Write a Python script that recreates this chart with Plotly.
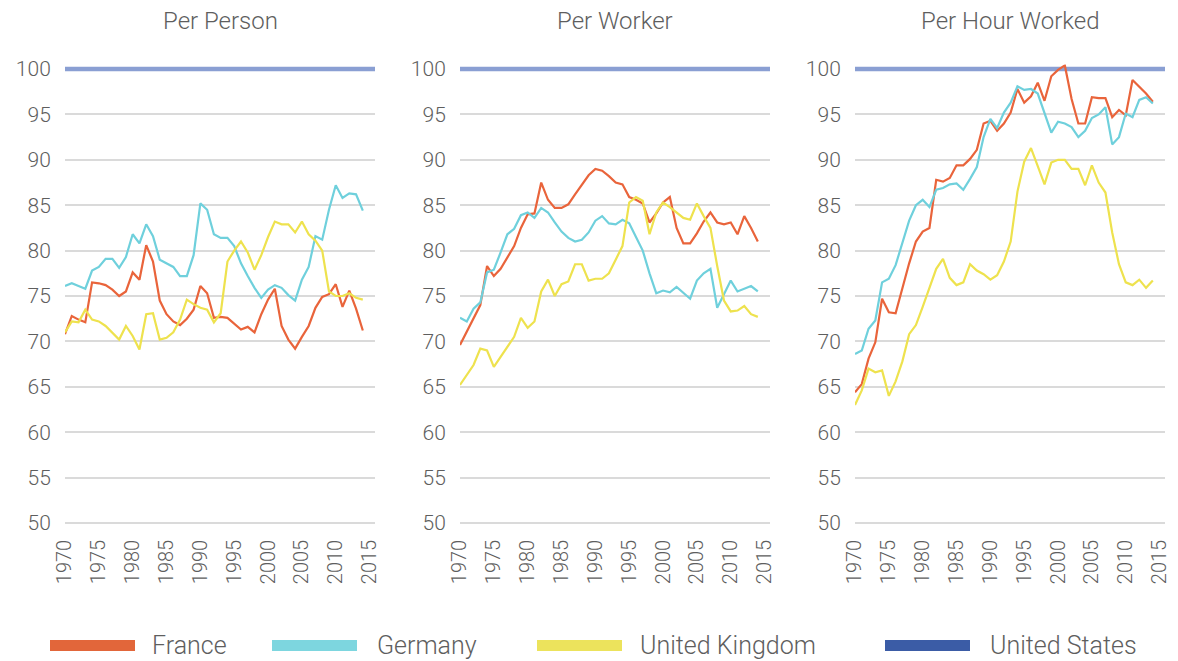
import plotly.graph_objects as go

# page body has an 8px margin: figure is sized to fit the window, positions offset by 8px
OFF = 8
W, H = 1178 - 2 * OFF, 661 - OFF

years = list(range(1970, 2015))
tick_years = [1970, 1975, 1980, 1985, 1990, 1995, 2000, 2005, 2010, 2015]
y_ticks = [50, 55, 60, 65, 70, 75, 80, 85, 90, 95, 100]
panel_titles = ["Per Person", "Per Worker", "Per Hour Worked"]
countries = ["France", "Germany", "United Kingdom", "United States"]

# Per Person (United States = 100)
pp_france = [70.8, 72.8, 72.4, 72.1, 76.5, 76.4, 76.2, 75.7, 75.0, 75.5,
             77.6, 76.8, 80.6, 78.8, 74.5, 73.0, 72.2, 71.8, 72.5, 73.5,
             76.1, 75.3, 72.6, 72.7, 72.6, 71.9, 71.3, 71.6, 71.0, 73.0,
             74.6, 75.8, 71.7, 70.2, 69.2, 70.5, 71.7, 73.7, 74.9, 75.2,
             76.3, 73.8, 75.6, 73.6, 71.2]
pp_germany = [76.1, 76.4, 76.1, 75.8, 77.8, 78.2, 79.1, 79.1, 78.1, 79.3,
              81.8, 80.8, 82.9, 81.6, 79.0, 78.6, 78.2, 77.2, 77.2, 79.5,
              85.2, 84.5, 81.8, 81.4, 81.4, 80.5, 78.6, 77.2, 75.9, 74.8,
              75.7, 76.2, 75.9, 75.1, 74.5, 76.8, 78.2, 81.6, 81.2, 84.5,
              87.2, 85.8, 86.3, 86.2, 84.4]
pp_uk = [71.0, 72.2, 72.1, 73.5, 72.4, 72.2, 71.7, 71.0, 70.2, 71.7,
         70.6, 69.1, 73.0, 73.1, 70.2, 70.4, 71.0, 72.4, 74.6, 74.1,
         73.7, 73.5, 72.1, 73.1, 78.8, 80.0, 81.0, 79.8, 77.9, 79.5,
         81.5, 83.2, 82.9, 82.9, 82.0, 83.2, 81.8, 81.1, 80.0, 75.5,
         75.0, 75.0, 75.3, 74.8, 74.6]

# Per Worker
pw_france = [69.6, 71.1, 72.6, 74.0, 78.3, 77.2, 78.0, 79.2, 80.5, 82.5,
             84.0, 84.1, 87.5, 85.6, 84.7, 84.7, 85.1, 86.2, 87.3, 88.3,
             89.0, 88.8, 88.2, 87.5, 87.3, 85.9, 85.6, 85.2, 83.1, 84.1,
             85.3, 85.9, 82.5, 80.8, 80.8, 81.9, 83.2, 84.2, 83.1, 82.9,
             83.1, 81.8, 83.8, 82.5, 81.0]
pw_germany = [72.6, 72.2, 73.6, 74.3, 77.6, 77.9, 79.8, 81.8, 82.4, 83.9,
              84.2, 83.6, 84.7, 84.2, 83.1, 82.1, 81.4, 81.0, 81.2, 82.0,
              83.3, 83.8, 83.0, 82.9, 83.4, 83.0, 81.5, 80.0, 77.5, 75.3,
              75.6, 75.4, 76.0, 75.4, 74.7, 76.7, 77.5, 78.0, 73.7, 75.2,
              76.7, 75.5, 75.8, 76.1, 75.5]
pw_uk = [65.2, 66.3, 67.4, 69.2, 69.0, 67.2, 68.3, 69.3, 70.5, 72.6,
         71.5, 72.2, 75.5, 76.8, 75.0, 76.3, 76.6, 78.5, 78.5, 76.7,
         76.9, 76.9, 77.5, 79.0, 80.5, 85.3, 85.9, 85.5, 81.8, 84.2,
         85.3, 84.8, 84.2, 83.6, 83.4, 85.2, 83.8, 82.5, 78.3, 74.5,
         73.3, 73.4, 73.9, 73.0, 72.7]

# Per Hour Worked
ph_france = [64.4, 65.3, 68.1, 69.9, 74.7, 73.2, 73.1, 76.0, 78.6, 81.0,
             82.1, 82.5, 87.8, 87.6, 88.0, 89.4, 89.4, 90.1, 91.1, 94.0,
             94.3, 93.2, 94.0, 95.2, 97.8, 96.3, 97.0, 98.5, 96.5, 99.2,
             99.9, 100.4, 96.7, 94.0, 94.0, 96.9, 96.8, 96.8, 94.7, 95.5,
             94.9, 98.8, 98.1, 97.3, 96.4]
ph_germany = [68.6, 69.0, 71.4, 72.3, 76.5, 76.9, 78.4, 80.8, 83.3, 85.0,
              85.6, 84.8, 86.7, 86.9, 87.3, 87.4, 86.7, 87.9, 89.2, 92.5,
              94.5, 93.5, 95.2, 96.3, 98.1, 97.7, 97.8, 97.3, 95.1, 93.0,
              94.2, 94.0, 93.6, 92.5, 93.2, 94.6, 95.0, 95.8, 91.7, 92.5,
              95.1, 94.7, 96.6, 96.9, 96.2]
ph_uk = [63.0, 64.6, 67.0, 66.6, 66.8, 64.0, 65.6, 67.8, 70.8, 71.8,
         73.8, 76.0, 78.0, 79.1, 77.0, 76.2, 76.5, 78.5, 77.8, 77.4,
         76.8, 77.3, 78.8, 81.0, 86.5, 89.8, 91.3, 89.3, 87.3, 89.7,
         90.0, 90.0, 89.0, 89.0, 87.2, 89.4, 87.5, 86.4, 82.0, 78.5,
         76.5, 76.2, 76.8, 75.9, 76.7]

# United States is the benchmark (index = 100)
us_index = [100, 100, 100, 100, 100, 100, 100, 100, 100, 100,
            100, 100, 100, 100, 100, 100, 100, 100, 100, 100,
            100, 100, 100, 100, 100, 100, 100, 100, 100, 100,
            100, 100, 100, 100, 100, 100, 100, 100, 100, 100,
            100, 100, 100, 100, 100]

panels = [
    [pp_france, pp_germany, pp_uk],
    [pw_france, pw_germany, pw_uk],
    [ph_france, ph_germany, ph_uk],
]

line_colors = ["#E9643B", "#6FD0DC", "#EEE24E"]
us_line_color = "#8A9FD3"
legend_colors = ["#E2663A", "#7DD6DF", "#ECE35C", "#3B5CA6"]

FONT = "Roboto"
TXT = "#5E5E5E"

def px_x(v):
    return (v - OFF) / W

def px_y(v):
    return 1 - (v - OFF) / H

# pixel layout (reference/window coordinates) of the three panels
panel_px = [(65, 375), (460, 770), (855, 1165)]
top_px, bot_px = 64.5, 524.8
y_range = [49.8, 100.5]
x_range = [1970, 2015.8]

fig = go.Figure()
layout = dict(
    width=W, height=H,
    margin=dict(l=0, r=0, t=0, b=0),
    paper_bgcolor="white", plot_bgcolor="white",
    showlegend=False,
    font=dict(family=FONT, color=TXT, size=19, weight=300),
)

annotations = []
shapes = []
for p, series in enumerate(panels):
    sfx = "" if p == 0 else str(p + 1)
    # United States benchmark line: spans the whole plot width at the index level
    shapes.append(dict(
        type="line", xref="x" + sfx, yref="y" + sfx,
        x0=x_range[0], x1=x_range[1], y0=us_index[0], y1=us_index[-1],
        line=dict(color=us_line_color, width=4.5), layer="between",
    ))
    for s, vals in enumerate(series):
        fig.add_trace(go.Scatter(
            x=years, y=vals, mode="lines", name=countries[s],
            line=dict(color=line_colors[s], width=2.2),
            xaxis="x" + sfx, yaxis="y" + sfx, hoverinfo="skip",
        ))
    x0, x1 = panel_px[p]
    layout["xaxis" + sfx] = dict(
        domain=[px_x(x0), px_x(x1)], range=x_range, anchor="y" + sfx,
        tickmode="array", tickvals=tick_years, ticktext=[str(t) for t in tick_years],
        tickangle=-90, showgrid=False, zeroline=False, showline=False,
        ticks="outside", ticklen=6, tickcolor="rgba(0,0,0,0)",
        tickfont=dict(family=FONT, size=20, color=TXT, weight=300),
        ticklabeloverflow="allow",
        automargin=False, fixedrange=True,
    )
    layout["yaxis" + sfx] = dict(
        domain=[px_y(bot_px), px_y(top_px)], range=y_range, anchor="x" + sfx,
        tickmode="array", tickvals=y_ticks, ticktext=[str(t) for t in y_ticks],
        showgrid=True, gridcolor="#DADADA", gridwidth=2, zeroline=False, showline=False,
        ticks="outside", ticklen=9, tickcolor="rgba(0,0,0,0)",
        tickfont=dict(family=FONT, size=21, color=TXT, weight=300),
        ticklabeloverflow="allow",
        automargin=False, fixedrange=True,
    )
    annotations.append(dict(
        text=panel_titles[p], x=px_x((x0 + x1) / 2), y=px_y(21),
        xref="paper", yref="paper", showarrow=False, xanchor="center", yanchor="middle",
        font=dict(family=FONT, size=24, color=TXT, weight=300),
    ))

# legend drawn at the bottom
legend_px = [(50, 135, 150), (272, 357, 375), (537, 622, 638), (885, 970, 988)]
for i, (sx0, sx1, tx) in enumerate(legend_px):
    shapes.append(dict(
        type="rect", xref="paper", yref="paper",
        x0=px_x(sx0), x1=px_x(sx1), y0=px_y(651), y1=px_y(640),
        fillcolor=legend_colors[i], line=dict(width=0),
    ))
    annotations.append(dict(
        text=countries[i], x=px_x(tx), y=px_y(645),
        xref="paper", yref="paper", showarrow=False, xanchor="left", yanchor="middle",
        font=dict(family=FONT, size=25, color=TXT, weight=300),
    ))

layout["annotations"] = annotations
layout["shapes"] = shapes
fig.update_layout(**layout)
fig.write_html("out.html")
